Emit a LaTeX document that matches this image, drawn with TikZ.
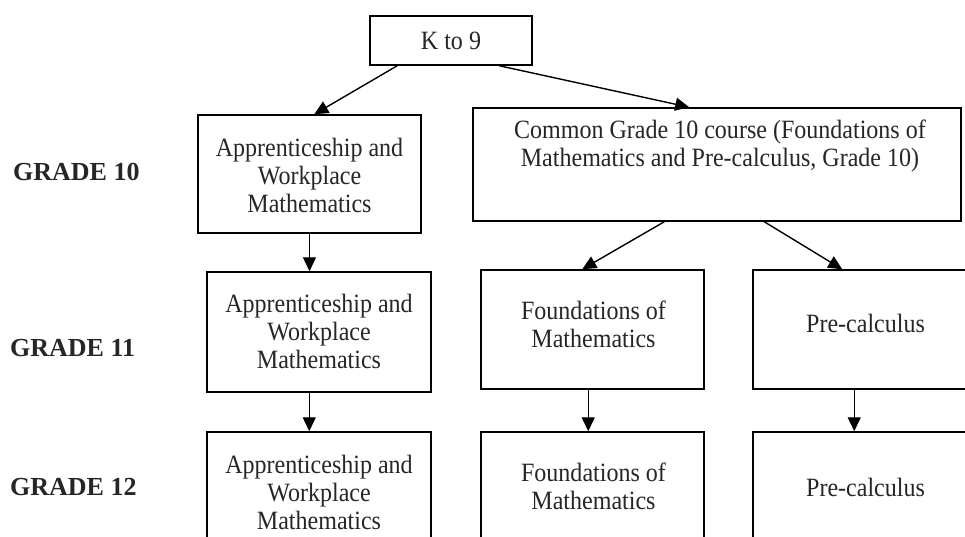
\documentclass[tikz,border=0pt]{standalone}
\usepackage{fontspec}
\setmainfont[FakeStretch=0.91]{Liberation Serif}
\newfontfamily\gradefont{Liberation Serif}
\usetikzlibrary{arrows.meta}
\tikzset{
  box/.style={draw=black, line width=1.5pt, rectangle, inner sep=0pt, fill=none},
  txt/.style={align=center, inner sep=0pt, font=\fontsize{26.4}{28}\selectfont, text=black!85},
  grade/.style={anchor=west, inner sep=0pt, font=\gradefont\fontsize{26}{30}\selectfont\bfseries, text=black!85},
  arr/.style={line width=1.4pt, -{Triangle[length=14pt,width=13pt]}}
}
\begin{document}
\begin{tikzpicture}[x=1pt,y=-1pt]
\useasboundingbox (0,0) rectangle (965,537);
\clip (0,0) rectangle (965,537);
\fill[white] (0,0) rectangle (965,537);

% boxes
\node[box, minimum width=162pt, minimum height=49pt] (k9) at (451,40.5) {};
\node[txt] (k9t) at (451,41) {K to 9};

\node[box, minimum width=223pt, minimum height=118pt] (aw10) at (309.5,174) {};
\node[txt] (aw10t) at (309.5,175) {Apprenticeship and\\Workplace\\Mathematics};

\node[box, minimum width=488pt, minimum height=113pt] (common) at (717,164.5) {};
\node[txt] (commont) at (720,146) {Common Grade 10 course (Foundations of\\Mathematics and Pre-calculus, Grade 10)};

\node[box, minimum width=224pt, minimum height=120pt] (aw11) at (319,332) {};
\node[txt] (aw11t) at (319,331) {Apprenticeship and\\Workplace\\Mathematics};

\node[box, minimum width=223pt, minimum height=119pt] (fm11) at (592.5,329.5) {};
\node[txt] (fm11t) at (593.5,324) {Foundations of\\Mathematics};

\node[box, minimum width=225pt, minimum height=119pt] (pc11) at (865.5,329.5) {};
\node[txt] (pc11t) at (865.5,323) {Pre-calculus};

\node[box, minimum width=224pt, minimum height=120pt] (aw12) at (319,492) {};
\node[txt] (aw12t) at (319,492) {Apprenticeship and\\Workplace\\Mathematics};

\node[box, minimum width=223pt, minimum height=119pt] (fm12) at (592.5,491.5) {};
\node[txt] (fm12t) at (593.5,486) {Foundations of\\Mathematics};

\node[box, minimum width=225pt, minimum height=119pt] (pc12) at (865.5,491.5) {};
\node[txt] (pc12t) at (865.5,487) {Pre-calculus};

% grade labels
\node[grade] (g10) at (13,172) {GRADE 10};
\node[grade] (g11) at (10,348) {GRADE 11};
\node[grade] (g12) at (10,487) {GRADE 12};

% connectors
\draw[arr] ([xshift=28pt]k9.south west) -- ([xshift=117pt]aw10.north west);
\draw[arr] ([xshift=130pt]k9.south west) -- ([xshift=217pt]common.north west);
\draw[arr] (aw10.south) -- (aw10.south |- aw11.north);
\draw[arr] ([xshift=192pt]common.south west) -- ([xshift=102pt]fm11.north west);
\draw[arr] ([xshift=292pt]common.south west) -- ([xshift=90pt]pc11.north west);
\draw[arr] ([xshift=103pt]aw11.south west) -- ([xshift=103pt]aw11.south west |- aw12.north);
\draw[arr] ([xshift=108pt]fm11.south west) -- ([xshift=108pt]fm11.south west |- fm12.north);
\draw[arr] ([xshift=102pt]pc11.south west) -- ([xshift=102pt]pc11.south west |- pc12.north);
\end{tikzpicture}
\end{document}
